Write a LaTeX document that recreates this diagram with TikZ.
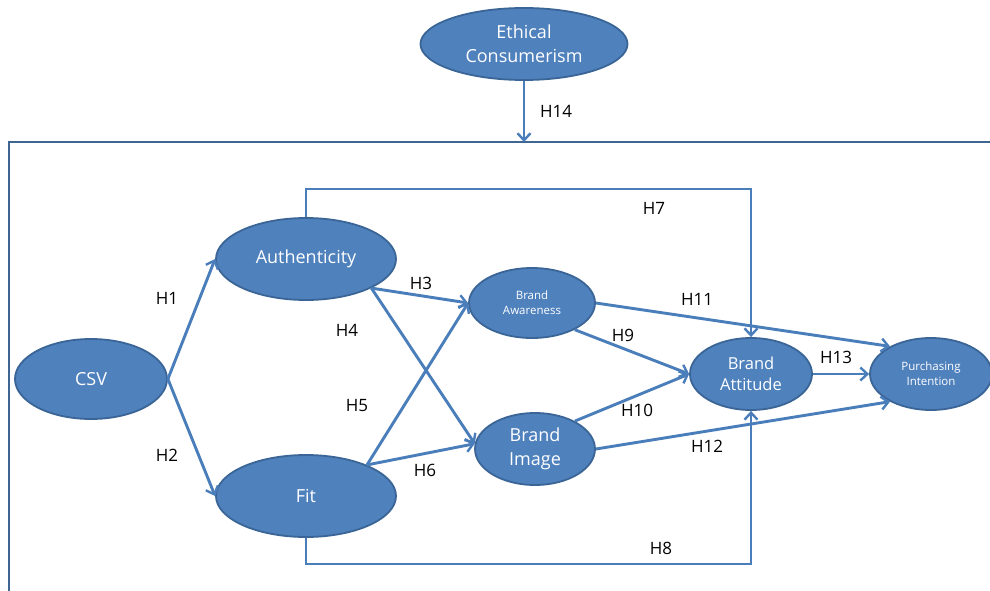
\documentclass[tikz,border=0pt]{standalone}
\usepackage{fontspec}
\setmainfont{Open Sans}
\usetikzlibrary{arrows.meta,shapes.geometric}
\definecolor{ellfill}{HTML}{4F81BD}
\definecolor{elldraw}{HTML}{3A6596}
\definecolor{conncol}{HTML}{4A7EBB}
\definecolor{boxcol}{HTML}{3F6592}
\tikzset{
  ell/.style={ellipse, fill=ellfill, draw=elldraw, line width=1.8pt, inner sep=0pt,
    text=white, align=center},
  big/.style={font=\fontsize{18}{24}\selectfont},
  mid/.style={font=\fontsize{16.5}{21}\selectfont},
  small/.style={font=\fontsize{11.5}{15}\selectfont},
  conn/.style={draw=conncol, line width=2.9pt, -{Straight Barb[length=7pt,width=13pt,line width=2.4pt]}},
  hlab/.style={font=\fontsize{17}{20}\selectfont, text=black, inner sep=0pt},
}
\begin{document}
\begin{tikzpicture}[x=1pt,y=-1pt]
\useasboundingbox (0,0) rectangle (990,591);
\fill[white] (0,0) rectangle (990,591);
% frame
\coordinate (boxtl) at (9,142);
\coordinate (boxtr) at (991,142);
\coordinate (boxbl) at (9,592);
\coordinate (h14end) at (524,142);
\draw[boxcol, line width=2.9pt] (boxtr) -- (boxtl) -- (boxbl);
% nodes
\node[ell,big,minimum width=207pt,minimum height=72pt] (ec) at (524,44) {Ethical\\Consumerism};
\node[ell,big,minimum width=152pt,minimum height=80pt] (csv) at (91,379) {CSV};
\node[ell,big,minimum width=180pt,minimum height=82pt] (auth) at (306,259) {Authenticity};
\node[ell,big,minimum width=180pt,minimum height=82pt] (fit) at (306,496) {Fit};
\node[ell,small,minimum width=126pt,minimum height=70pt] (ba) at (532,303) {Brand\\Awareness};
\node[ell,big,minimum width=120pt,minimum height=72pt] (bi) at (535,449) {Brand\\Image};
\node[ell,mid,minimum width=122pt,minimum height=72pt] (att) at (751,374) {Brand\\Attitude};
\node[ell,small,minimum width=122pt,minimum height=72pt] (pi) at (931,374) {Purchasing\\Intention};
% connectors
\draw[conn] (ec.south) -- (h14end);
\draw[conn] (csv.east) -- (auth.west);
\draw[conn] (csv.east) -- (fit.west);
\draw[conn] (auth.-24) -- (ba.west);
\draw[conn] (auth.-24) -- (bi.175);
\draw[conn] (fit.27) -- (ba.west);
\draw[conn] (fit.27) -- (bi.175);
\draw[conn] (ba.-32) -- (att.west);
\draw[conn] (bi.35) -- (att.west);
\draw[conn] (ba.east) -- (pi.146);
\draw[conn] (bi.east) -- (pi.214);
\draw[conn] (att.east) -- (pi.west);
\coordinate (h7y) at (500,189);
\coordinate (h8y) at (500,564);
\draw[conn] (auth.north) |- (h7y) -| (att.north);
\draw[conn] (fit.south) |- (h8y) -| (att.south);
% labels
\node[hlab] (l1) at (167,298) {H1};
\node[hlab] (l2) at (167,455) {H2};
\node[hlab] (l3) at (421,283) {H3};
\node[hlab] (l4) at (347,330) {H4};
\node[hlab] (l5) at (357,406) {H5};
\node[hlab] (l6) at (425,470) {H6};
\node[hlab] (l7) at (654,208) {H7};
\node[hlab] (l8) at (661,548) {H8};
\node[hlab] (l9) at (623,335) {H9};
\node[hlab] (l10) at (637,410) {H10};
\node[hlab] (l11) at (697,299) {H11};
\node[hlab] (l12) at (707,446) {H12};
\node[hlab] (l13) at (836,357) {H13};
\node[hlab] (l14) at (556,111) {H14};
\end{tikzpicture}
\end{document}
